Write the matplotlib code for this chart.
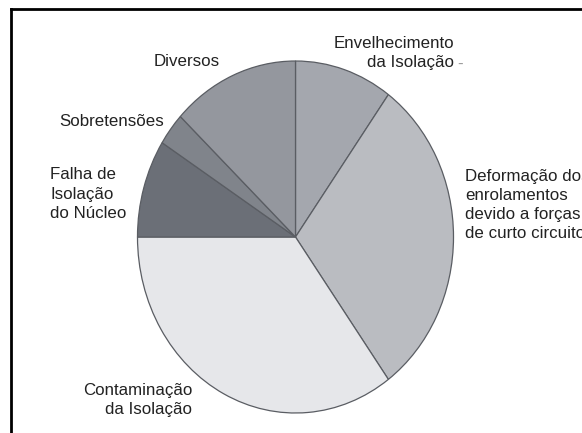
import matplotlib.pyplot as plt
from matplotlib.lines import Line2D

plt.rcParams['font.family'] = ['Liberation Sans', 'DejaVu Sans']

# Causas de falha (percentual aproximado)
causes = ['Envelhecimento da Isolação',
          'Deformação dos enrolamentos devido a forças de curto circuito',
          'Contaminação da Isolação',
          'Falha de Isolação do Núcleo',
          'Sobretensões',
          'Diversos']
shares = [10, 30, 35, 9, 3, 13]
colors = ['#a4a7ae', '#babcc1', '#e6e7ea', '#6b6f77', '#80848b', '#94979e']

W, H = 582, 433
fig = plt.figure(figsize=(W / 100, H / 100), dpi=100)

# pie is slightly taller than wide in the reference
cx, cy, rx, ry = 295.5, 237, 158, 176
ax = fig.add_axes([(cx - rx) / W, (H - cy - ry) / H, 2 * rx / W, 2 * ry / H])
ax.pie(shares, colors=colors, startangle=90, counterclock=False,
       wedgeprops=dict(edgecolor='#5a5d63', linewidth=0.9))
ax.set_aspect('auto')
ax.set_xlim(-1, 1)
ax.set_ylim(-1, 1)
ax.axis('off')


def label(x, y, s, ha='left', color='#222222'):
    fig.text(x / W, 1 - y / H, s, ha=ha, va='center', fontsize=12.2,
             color=color, linespacing=1.36)


label(454, 53, 'Envelhecimento\nda Isolação', ha='right')
label(457, 64, '-', color='#999999')
label(465, 205, 'Deformação dos\nenrolamentos\ndevido a forças\nde curto circuito')
label(192, 400, 'Contaminação\nda Isolação', ha='right')
label(50, 194, 'Falha de\nIsolação\ndo Núcleo')
label(59, 121, 'Sobretensões')
label(154, 61, 'Diversos')

# frame lines at the top-left, running off the picture
fig.add_artist(Line2D([11 / W, 11 / W], [0, 1 - 9 / H], color='black', lw=2))
fig.add_artist(Line2D([11 / W, 1], [1 - 9 / H, 1 - 9 / H], color='black', lw=2))

fig.savefig('out.png', dpi=100)
